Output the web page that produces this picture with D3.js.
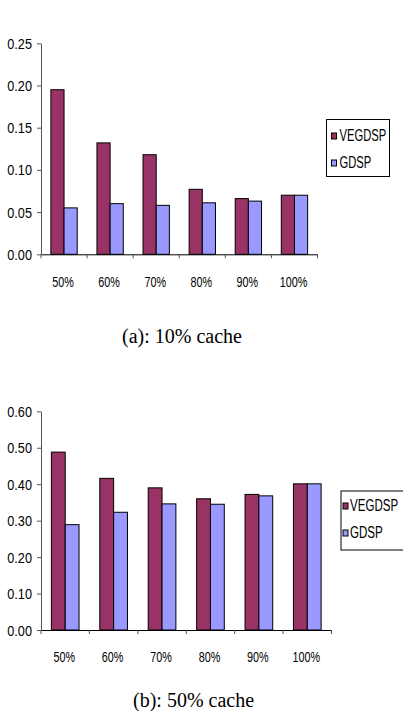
<!DOCTYPE html>
<html><head><meta charset="utf-8">
<script src="https://cdn.jsdelivr.net/npm/d3@7"></script>
<style>
body{margin:0;background:#fff;}
svg{display:block;}
</style></head>
<body>
<svg id="c" width="403" height="711"></svg>
<script>
const categories = ["50%","60%","70%","80%","90%","100%"];
const seriesNames = ["VEGDSP","GDSP"];
const seriesColors = ["#993366","#9999FF"];
const vegdspA = [0.195,0.132,0.118,0.077,0.066,0.070];
const gdspA   = [0.055,0.060,0.058,0.061,0.063,0.070];
const ticksA  = [0,0.05,0.10,0.15,0.20,0.25];
const vegdspB = [0.488,0.416,0.390,0.360,0.372,0.401];
const gdspB   = [0.289,0.323,0.346,0.345,0.368,0.401];
const ticksB  = [0,0.10,0.20,0.30,0.40,0.50,0.60];
const captions = ["(a): 10% cache","(b): 50% cache"];

const svg = d3.select("#c");
const font = '"Liberation Sans",Arial,sans-serif';

function ntext(parent, x, y, str, fs, sx, anchor){
  return parent.append("text")
    .attr("transform",`translate(${x},${y}) scale(${sx},1)`)
    .attr("font-family",font).attr("font-size",fs)
    .attr("text-anchor",anchor||"start").attr("fill","#000").text(str);
}

function drawChart(cfg){
  const g = svg.append("g");
  const x = d3.scaleBand().domain(categories).range([cfg.x0, cfg.x1]).paddingInner(0).paddingOuter(0);
  const ymax = cfg.ticks[cfg.ticks.length-1];
  const y = d3.scaleLinear().domain([0, ymax]).range([cfg.yb, cfg.yt]);
  const bw = x.bandwidth()/3.5;
  const series = [cfg.v1, cfg.v2];
  series.forEach((vals, si) => {
    g.selectAll(null).data(vals).enter().append("rect")
      .attr("x", (d,i) => x(categories[i]) + 0.75*bw + si*bw)
      .attr("y", d => y(d))
      .attr("width", bw)
      .attr("height", d => y(0) - y(d))
      .attr("fill", seriesColors[si])
      .attr("stroke", "#000")
      .attr("stroke-width", 1);
  });
  // y axis (line + ticks via d3 axis, labels as narrow text)
  const ya = g.append("g").attr("transform",`translate(${cfg.x0},0)`)
    .call(d3.axisLeft(y).tickValues(cfg.ticks).tickFormat("").tickSize(4).tickSizeOuter(0));
  ya.selectAll("path,line").attr("stroke","#555");
  const fmt = d3.format(".2f");
  cfg.ticks.forEach(t => ntext(g, cfg.x0-9, y(t)+5.5, fmt(t), 15.5, 0.82, "end"));
  // x axis
  const xa = g.append("g").attr("transform",`translate(0,${cfg.yb})`)
    .call(d3.axisBottom(x).tickSize(0).tickFormat("").tickSizeOuter(0));
  xa.select("path").attr("stroke","#000");
  categories.forEach(c => ntext(g, x(c)+x.bandwidth()/2 - 1, cfg.labY, c, 15, 0.72, "middle"));
  // band boundary ticks
  g.selectAll(null).data(d3.range(categories.length+1)).enter().append("line")
    .attr("x1", i => cfg.x0 + i*x.step()).attr("x2", i => cfg.x0 + i*x.step())
    .attr("y1", cfg.yb).attr("y2", cfg.yb+4).attr("stroke","#555");
  // legend
  const L = cfg.leg;
  g.append("rect").attr("x",L.x).attr("y",L.y).attr("width",L.w).attr("height",L.h)
    .attr("fill","#fff").attr("stroke","#000").attr("stroke-width",1);
  seriesNames.forEach((n,si) => {
    const by = L.base[si];
    g.append("rect").attr("x",L.x+L.sq).attr("y",by-8).attr("width",5).attr("height",6)
      .attr("fill",seriesColors[si]).attr("stroke","#000").attr("stroke-width",1);
    ntext(g, L.x+L.tx, by, n, L.fs, 0.68, "start");
  });
  svg.append("text").attr("x",cfg.capX).attr("y",cfg.capY)
    .attr("font-family",'"Liberation Serif","Times New Roman",serif').attr("font-size",20)
    .text(cfg.caption);
}

drawChart({v1:vegdspA, v2:gdspA, ticks:ticksA, x0:41, x1:317.5, yt:43.3, yb:254.3, labY:286.5,
  leg:{x:326.5,y:119.5,w:63,h:57,base:[141,168],sq:5,tx:13,fs:16.5}, caption:captions[0], capX:122, capY:343});
drawChart({v1:vegdspB, v2:gdspB, ticks:ticksB, x0:41, x1:331.5, yt:411.3, yb:630, labY:662,
  leg:{x:341,y:491,w:63,h:59,base:[511,538],sq:2,tx:9,fs:17}, caption:captions[1], capX:133, capY:707});
</script>
</body></html>
